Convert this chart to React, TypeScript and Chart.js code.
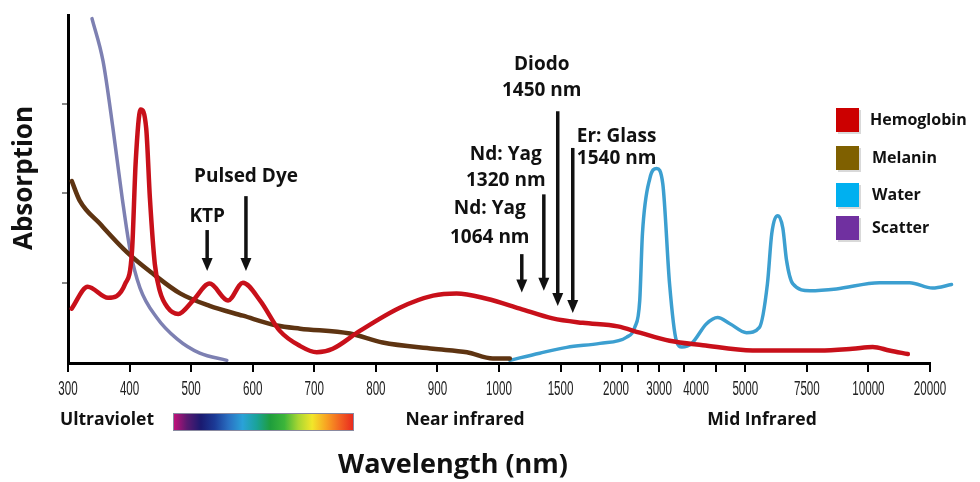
import { useEffect, useRef } from "react";
import { Chart, registerables } from "chart.js";

Chart.register(...registerables);

// ---- axis definition (wavelength labels and their positions on the broken axis)
const tickWavelengths = [300, 400, 500, 600, 700, 800, 900, 1000, 1500, 2000, 3000, 4000, 5000, 7500, 10000, 20000];
const tickLabels = tickWavelengths.map(String);
const tickPositions = [0, 1, 2, 3, 4, 5, 6, 7, 8, 8.9, 9.6, 10.2, 11, 12, 13, 14];
const tickMarkPositions = [0, 1, 2, 3, 4, 5, 6, 7, 8, 8.64, 9.0, 9.25, 9.6, 10.0, 10.53, 11, 12, 13, 14];
const yTickValues = [1, 2, 3];

// ---- series (wavelength nm, relative absorption)
const seriesNames = ["Hemoglobin", "Melanin", "Water", "Scatter"];
const legendColors = ["#cc0000", "#7f6000", "#00b0f0", "#7030a0"];
const lineColors = ["#c8101a", "#5e3412", "#3c9fd0", "#7d80b2"];

const hemoglobinNm = [306, 332, 365, 393, 404, 410, 418, 427, 433, 441, 449, 462, 479, 503, 530, 560, 584, 612, 644, 677, 704, 730, 774, 839, 893, 931, 980, 1170, 1435, 1700, 2043, 2551, 3283, 4138, 5300, 8025, 9350, 10700, 13400, 16400];
const hemoglobinAbs = [0.71, 0.955, 0.83, 0.99, 1.36, 2.36, 2.94, 2.73, 1.95, 1.21, 0.91, 0.72, 0.65, 0.8, 0.99, 0.8, 1.0, 0.8, 0.46, 0.29, 0.22, 0.26, 0.46, 0.72, 0.855, 0.88, 0.82, 0.71, 0.6, 0.55, 0.51, 0.44, 0.35, 0.3, 0.24, 0.24, 0.26, 0.28, 0.24, 0.2];

const melaninNm = [306, 319, 352, 396, 438, 482, 530, 584, 639, 677, 758, 811, 893, 948, 990, 1088];
const melaninAbs = [2.14, 1.92, 1.66, 1.34, 1.1, 0.88, 0.74, 0.63, 0.52, 0.485, 0.43, 0.33, 0.26, 0.22, 0.15, 0.15];

const waterNm = [1088, 1330, 1556, 1855, 2250, 2436, 2551, 2614, 2786, 2943, 3100, 3283, 3467, 3617, 3883, 4213, 4438, 4688, 5050, 5575, 5900, 6075, 6325, 6525, 6675, 6925, 7625, 8700, 11800, 16700, 20400, 23500];
const waterAbs = [0.13, 0.21, 0.275, 0.32, 0.39, 0.5, 0.8, 1.55, 2.17, 2.28, 2.11, 0.99, 0.35, 0.28, 0.32, 0.54, 0.61, 0.54, 0.44, 0.5, 0.99, 1.55, 1.75, 1.61, 1.25, 0.99, 0.91, 0.93, 1.0, 1.0, 0.94, 0.98];

const scatterNm = [339, 357, 373, 388, 401, 417, 444, 477, 514, 558];
const scatterAbs = [3.96, 3.48, 2.73, 1.95, 1.36, 0.94, 0.61, 0.37, 0.21, 0.13];

// ---- laser annotations
const laserLines = [["KTP"], ["Pulsed Dye"], ["Nd: Yag", "1064 nm"], ["Nd: Yag", "1320 nm"], ["Diodo", "1450 nm"], ["Er: Glass", "1540 nm"]];
const arrowNm = [526, 589, 1185, 1364, 1477, 1610];
const arrowTail = [1.59, 1.97, 1.32, 1.99, 2.92, 2.51];
const arrowTip = [1.13, 1.13, 0.89, 0.91, 0.74, 0.66];
const labelNm = [526, 589, 985, 1055, 1347, 2014];
const labelLine1 = [1.74, 2.19, 1.83, 2.44, 3.44, 2.64];
const labelLine2 = [0, 0, 1.5, 2.14, 3.15, 2.39];

const regionLabels = ["Ultraviolet", "Near infrared", "Mid Infrared"];

const X_MIN = 0;
const X_MAX = 14;

function wlToPos(w: number): number {
  const n = tickWavelengths.length;
  let i = 0;
  while (i < n - 2 && w > tickWavelengths[i + 1]) i++;
  const w0 = tickWavelengths[i];
  const w1 = tickWavelengths[i + 1];
  return tickPositions[i] + ((w - w0) / (w1 - w0)) * (tickPositions[i + 1] - tickPositions[i]);
}

function toPoints(nm: number[], abs: number[]) {
  return nm.map((w, i) => ({ x: wlToPos(w), y: abs[i] }));
}

const BOLD = "'Open Sans', 'Noto Sans', sans-serif";

const decorPlugin = {
  id: "decor",
  afterDraw(chart: any) {
    const ctx: CanvasRenderingContext2D = chart.ctx;
    const xs = chart.scales.x;
    const ys = chart.scales.y;
    ctx.save();

    // x tick labels (tall, narrow)
    ctx.fillStyle = "#222";
    ctx.textAlign = "center";
    ctx.textBaseline = "middle";
    ctx.font = "20px 'Liberation Sans', Arial, sans-serif";
    tickLabels.forEach((lab, i) => {
      const px = xs.getPixelForValue(tickPositions[i]);
      ctx.save();
      ctx.translate(px, 389);
      ctx.scale(0.58, 1);
      ctx.fillText(lab, 0, 0);
      ctx.restore();
    });

    // laser arrows & labels
    ctx.fillStyle = "#111";
    ctx.strokeStyle = "#111";
    laserLines.forEach((lines, i) => {
      const ax = xs.getPixelForValue(wlToPos(arrowNm[i]));
      const y0 = ys.getPixelForValue(arrowTail[i]);
      const y1 = ys.getPixelForValue(arrowTip[i]);
      const head = 13;
      ctx.lineWidth = 3.5;
      ctx.beginPath();
      ctx.moveTo(ax, y0);
      ctx.lineTo(ax, y1 - head + 1);
      ctx.stroke();
      ctx.beginPath();
      ctx.moveTo(ax - 5.5, y1 - head);
      ctx.lineTo(ax + 5.5, y1 - head);
      ctx.lineTo(ax, y1);
      ctx.closePath();
      ctx.fill();

      ctx.font = `bold 19px ${BOLD}`;
      ctx.textAlign = "center";
      ctx.textBaseline = "middle";
      const lx = xs.getPixelForValue(wlToPos(labelNm[i]));
      ctx.fillText(lines[0], lx, ys.getPixelForValue(labelLine1[i]));
      if (lines[1]) ctx.fillText(lines[1], lx, ys.getPixelForValue(labelLine2[i]));
    });

    // legend
    const tops = [108, 146, 183, 216];
    seriesNames.forEach((name, i) => {
      ctx.fillStyle = "rgba(0,0,0,0.15)";
      ctx.fillRect(838, tops[i] + 2, 23, 24);
      ctx.fillStyle = legendColors[i];
      ctx.fillRect(836, tops[i], 23, 24);
      ctx.fillStyle = "#111";
      ctx.font = `bold 16px ${BOLD}`;
      ctx.textAlign = "left";
      ctx.textBaseline = "middle";
      ctx.fillText(name, 870 + (i === 0 ? 0 : 2), tops[i] + 12);
    });

    // region labels
    ctx.font = `bold 17.5px ${BOLD}`;
    ctx.textAlign = "center";
    ctx.textBaseline = "middle";
    ctx.fillStyle = "#111";
    const regionX = [107, 465, 762];
    regionLabels.forEach((t, i) => ctx.fillText(t, regionX[i], 420));

    // visible spectrum bar
    const g = ctx.createLinearGradient(173, 0, 354, 0);
    const stops = ["#c8107a", "#5a1a70", "#1a1a70", "#1b3a96", "#2a70c2", "#2aa2d8", "#1aa39a", "#1f9e3c", "#3cb53a", "#a8d632", "#f2e62a", "#f8a422", "#f26222", "#e8261e"];
    stops.forEach((c, i) => g.addColorStop(i / (stops.length - 1), c));
    ctx.fillStyle = g;
    ctx.fillRect(173, 413, 181, 18);
    ctx.strokeStyle = "#8a8aa0";
    ctx.lineWidth = 1;
    ctx.strokeRect(173.5, 413.5, 180, 17);

    // axis titles
    ctx.fillStyle = "#111";
    ctx.font = `bold 27px ${BOLD}`;
    ctx.textAlign = "center";
    ctx.textBaseline = "middle";
    ctx.fillText("Wavelength (nm)", 453, 465);
    ctx.save();
    ctx.translate(25, 178);
    ctx.rotate(-Math.PI / 2);
    ctx.font = `bold 26px ${BOLD}`;
    ctx.fillText("Absorption", 0, 0);
    ctx.restore();

    ctx.restore();
  },
};

export default function App() {
  const ref = useRef<HTMLCanvasElement | null>(null);

  useEffect(() => {
    document.body.style.margin = "0";
    const canvas = ref.current;
    if (!canvas) return;
    const series = [
      toPoints(hemoglobinNm, hemoglobinAbs),
      toPoints(melaninNm, melaninAbs),
      toPoints(waterNm, waterAbs),
      toPoints(scatterNm, scatterAbs),
    ];
    const widths = [4.5, 4.5, 3.5, 3.5];
    const chart = new Chart(canvas, {
      type: "line",
      data: {
        datasets: seriesNames.map((name, i) => ({
          label: name,
          data: series[i],
          borderColor: lineColors[i],
          backgroundColor: lineColors[i],
          borderWidth: widths[i],
          pointRadius: 0,
          fill: false,
          cubicInterpolationMode: "monotone" as const,
          clip: false as any,
          borderCapStyle: "round" as const,
        })),
      },
      options: {
        responsive: false,
        animation: false,
        events: [],
        layout: { padding: { top: 15, right: 50, left: 0, bottom: 0 } },
        plugins: { legend: { display: false }, tooltip: { enabled: false } },
        scales: {
          x: {
            type: "linear",
            afterDataLimits: (s: any) => {
              s.min = X_MIN;
              s.max = X_MAX;
            },
            afterBuildTicks: (s: any) => {
              s.ticks = tickMarkPositions.map((v) => ({ value: v }));
            },
            afterFit: (s: any) => {
              s.height = 119;
            },
            ticks: { display: false },
            grid: { display: true, drawOnChartArea: false, drawTicks: true, tickLength: 9, color: "#000", lineWidth: 2 },
            border: { display: true, color: "#000", width: 3 },
          },
          y: {
            type: "linear",
            min: 0.1,
            max: 4.0,
            afterBuildTicks: (s: any) => {
              s.ticks = yTickValues.map((v) => ({ value: v }));
            },
            afterFit: (s: any) => {
              s.width = 68;
            },
            ticks: { display: false },
            grid: { display: true, drawOnChartArea: false, drawTicks: true, tickLength: 6, color: "#888", lineWidth: 2 },
            border: { display: true, color: "#000", width: 3 },
          },
        },
      },
      plugins: [decorPlugin],
    });
    return () => chart.destroy();
  }, []);

  return (
    <div style={{ width: 980, height: 482, background: "#fff" }}>
      <canvas ref={ref} width={980} height={482} />
    </div>
  );
}
